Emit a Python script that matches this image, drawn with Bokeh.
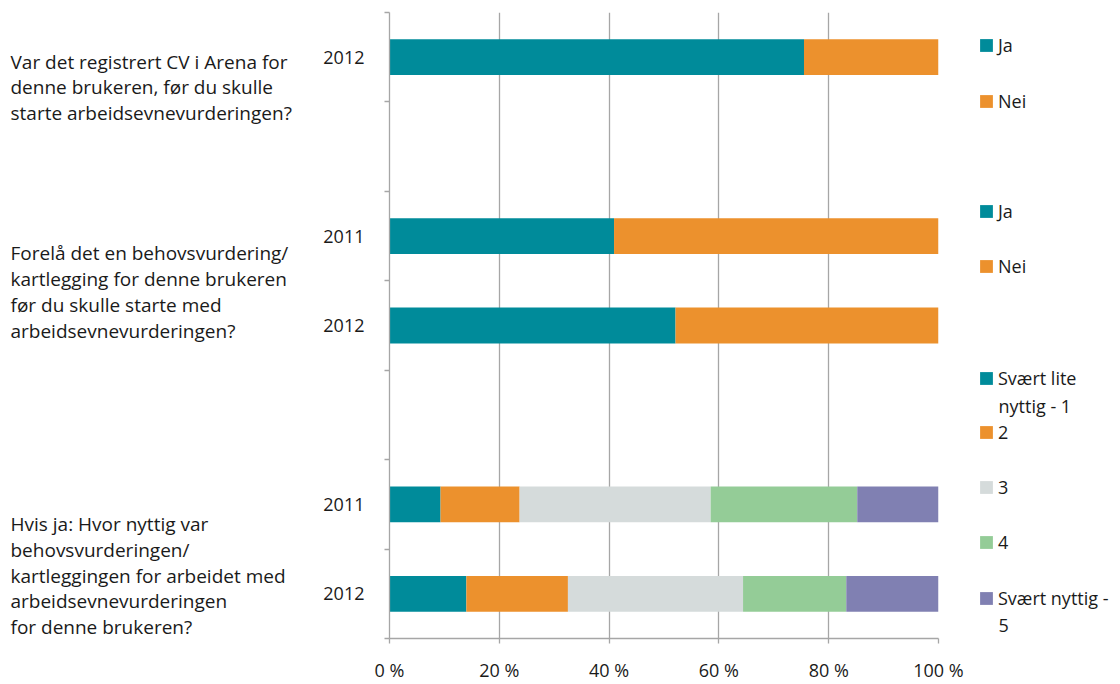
from bokeh.plotting import figure
from bokeh.layouts import row
from bokeh.models import Range1d, FixedTicker, Label, Legend, LegendItem, ColumnDataSource
from bokeh.embed import file_html
from bokeh.resources import INLINE

# ---- data ----
row_labels = ["2012", "", "2011", "2012", "", "2011", "2012"]

cv_years = ["2012"]
cv_ja = [75.5]
cv_nei = [24.5]

behov_years = ["2011", "2012"]
behov_ja = [40.9, 52.1]
behov_nei = [59.1, 47.9]

nytte_years = ["2011", "2012"]
nytte_1 = [9.3, 14.0]
nytte_2 = [14.4, 18.5]
nytte_3 = [34.8, 31.9]
nytte_4 = [26.7, 18.8]
nytte_5 = [14.8, 16.8]

questions = [
    "Var det registrert CV i Arena for\ndenne brukeren, før du skulle\nstarte arbeidsevnevurderingen?",
    "Forelå det en behovsvurdering/\nkartlegging for denne brukeren\nfør du skulle starte med\narbeidsevnevurderingen?",
    "Hvis ja: Hvor nyttig var\nbehovsvurderingen/\nkartleggingen for arbeidet med\narbeidsevnevurderingen\nfor denne brukeren?",
]
legend_jn = ["Ja", "Nei"]
legend_nytte = ["Svært lite\nnyttig - 1", "2", "3", "4", "Svært nyttig -\n5"]
x_ticks = [0, 20, 40, 60, 80, 100]
x_tick_labels = ["0 %", "20 %", "40 %", "60 %", "80 %", "100 %"]

TEAL = "#008B9A"
ORANGE = "#EC912D"
GREY = "#D5DBDB"
GREEN = "#94CC97"
PURPLE = "#8080B2"
FONT = "Open Sans"
TXT = "#1a1a1a"
AX = "#A6A6A6"

W, H = 1120, 684
LEFT_W, MAIN_W = 320, 650
RIGHT_W = W - LEFT_W - MAIN_W
FL, FR, FT, FB = 388, 938, 12, 639  # frame edges (page px)

n_rows = len(row_labels)
def ypos(i):
    return n_rows - i - 0.5

def blank(width):
    # side panel whose data coords equal page px (y measured upward from page bottom)
    f = figure(width=width, height=H, output_backend="svg", toolbar_location=None,
               x_range=Range1d(0, width), y_range=Range1d(H - FB, H - FT),
               x_axis_type=None, y_axis_type=None,
               min_border_left=0, min_border_right=0,
               min_border_top=FT, min_border_bottom=H - FB)
    f.outline_line_color = None
    f.grid.visible = False
    return f

# ---- main chart ----
p = figure(width=MAIN_W, height=H, output_backend="svg", toolbar_location=None,
           x_range=Range1d(0, 100), y_range=Range1d(0, n_rows),
           min_border_left=FL - LEFT_W, min_border_right=LEFT_W + MAIN_W - FR,
           min_border_top=FT, min_border_bottom=H - FB)
p.outline_line_color = None

p.ygrid.grid_line_color = None
p.xgrid.ticker = FixedTicker(ticks=x_ticks)
p.xgrid.grid_line_color = AX
p.xgrid.grid_line_width = 1.3

p.xaxis.ticker = FixedTicker(ticks=x_ticks, minor_ticks=[])
p.xaxis.major_label_overrides = {t: l for t, l in zip(x_ticks, x_tick_labels)}
p.xaxis.axis_line_color = AX
p.xaxis.axis_line_width = 1.3
p.xaxis.major_tick_line_color = AX
p.xaxis.major_tick_line_width = 1.3
p.xaxis.major_tick_out = 5
p.xaxis.major_tick_in = 0
p.xaxis.major_label_standoff = 14
p.xaxis.major_label_text_font = FONT
p.xaxis.major_label_text_font_size = "18px"
p.xaxis.major_label_text_color = TXT

label_ticks = [ypos(i) for i, r in enumerate(row_labels) if r]
p.yaxis.ticker = FixedTicker(ticks=label_ticks, minor_ticks=list(range(n_rows + 1)))
p.yaxis.major_label_overrides = {ypos(i): r for i, r in enumerate(row_labels) if r}
p.yaxis.axis_line_color = AX
p.yaxis.axis_line_width = 1.3
p.yaxis.major_tick_out = 0
p.yaxis.major_tick_in = 0
p.yaxis.minor_tick_out = 5
p.yaxis.minor_tick_in = 0
p.yaxis.minor_tick_line_color = AX
p.yaxis.minor_tick_line_width = 1.3
p.yaxis.major_label_standoff = 20
p.yaxis.major_label_text_font = FONT
p.yaxis.major_label_text_font_size = "18px"
p.yaxis.major_label_text_color = TXT

BH = 0.4
src_cv = ColumnDataSource(dict(y=[ypos(0)], ja=cv_ja, nei=cv_nei))
p.hbar_stack(["ja", "nei"], y="y", height=BH, color=[TEAL, ORANGE], source=src_cv, line_width=0)

src_b = ColumnDataSource(dict(y=[ypos(2), ypos(3)], ja=behov_ja, nei=behov_nei))
p.hbar_stack(["ja", "nei"], y="y", height=BH, color=[TEAL, ORANGE], source=src_b, line_width=0)

src_n = ColumnDataSource(dict(y=[ypos(5), ypos(6)], a=nytte_1, b=nytte_2, c=nytte_3, d=nytte_4, e=nytte_5))
p.hbar_stack(["a", "b", "c", "d", "e"], y="y", height=BH,
             color=[TEAL, ORANGE, GREY, GREEN, PURPLE], source=src_n, line_width=0)

# ---- left: question texts ----
left = blank(LEFT_W)
q_centers = [87, 292, 576]
for q, cy in zip(questions, q_centers):
    left.add_layout(Label(x=10, y=H - cy, text=q,
                          text_font=FONT, text_font_size="19px", text_color=TXT,
                          text_align="left", text_baseline="middle", text_line_height=0.99))

# ---- right: legends ----
right = blank(RIGHT_W)
RX = LEFT_W + MAIN_W
def legend_block(labels, colors, centers):
    for lab, col, cy in zip(labels, colors, centers):
        lines = lab.split("\n")
        # zero-width swatch carrier for the legend entry
        r = right.hbar(y=[H - cy], left=[0], right=[0], height=1, color=col, line_width=0)
        leg = Legend(items=[LegendItem(label=lines[0], renderers=[r])],
                     location=(978 - RX, FB - (cy + 12)),
                     border_line_color=None, background_fill_alpha=0,
                     padding=0, margin=0, spacing=0,
                     glyph_width=16, glyph_height=16, label_standoff=4, label_height=20,
                     label_text_font=FONT, label_text_font_size="18px", label_text_color=TXT)
        right.add_layout(leg)
        for k, extra in enumerate(lines[1:], start=1):
            right.add_layout(Label(x=998 - RX, y=H - (cy + 27 * k), text=extra,
                                   text_font=FONT, text_font_size="18px", text_color=TXT,
                                   text_align="left", text_baseline="middle"))

legend_block(legend_jn, [TEAL, ORANGE], [46, 102])
legend_block(legend_jn, [TEAL, ORANGE], [212, 267])
legend_block(legend_nytte, [TEAL, ORANGE, GREY, GREEN, PURPLE], [379, 433, 488, 543, 599])

layout = row(left, p, right)
open("out.html", "w").write(file_html(layout, INLINE))
